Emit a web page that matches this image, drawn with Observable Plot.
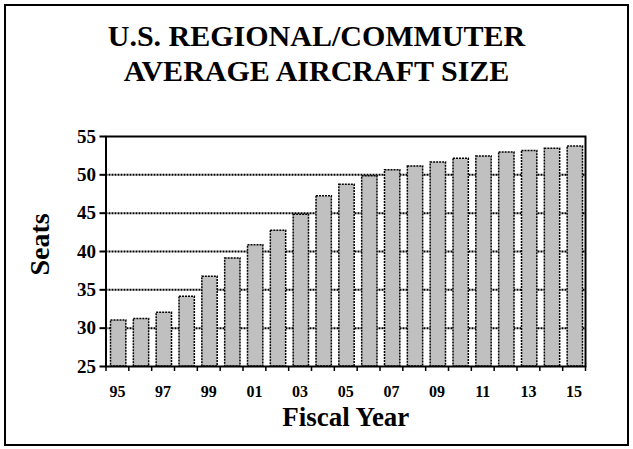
<!DOCTYPE html>
<html>
<head>
<meta charset="utf-8">
<script src="https://cdn.jsdelivr.net/npm/d3@7"></script>
<script src="https://cdn.jsdelivr.net/npm/@observablehq/plot@0.6"></script>
<style>
  html, body { margin: 0; padding: 0; background: #fff; }
  #wrap { position: relative; width: 633px; height: 449px; overflow: hidden; }
  #border { position: absolute; left: 4px; top: 4px; width: 621px; height: 438px; border: 2px solid #000; }
  #title { position: absolute; left: 0; top: 18px; width: 633px; text-align: center;
           font-family: "Liberation Serif", serif; font-weight: bold; font-size: 30px; line-height: 35px; color: #000; }
  #chart { position: absolute; left: 0; top: 0; }
  #chart svg text { font-family: "Liberation Serif", serif; font-weight: bold; font-variant: normal; }
</style>
</head>
<body>
<div id="wrap">
  <div id="border"></div>
  <div id="chart"></div>
  <div id="title">U.S. REGIONAL/COMMUTER<br>AVERAGE AIRCRAFT SIZE</div>
</div>
<script>
const years = ["95","96","97","98","99","00","01","02","03","04","05","06","07","08","09","10","11","12","13","14","15"];
const seats = [31.0, 31.2, 32.0, 34.1, 36.7, 39.1, 40.8, 42.7, 44.8, 47.2, 48.7, 49.8, 50.6, 51.1, 51.6, 52.1, 52.4, 52.9, 53.1, 53.4, 53.7];
const yTicks = [25, 30, 35, 40, 45, 50, 55];
const gridValues = [30, 35, 40, 45, 50];
const labeledYears = ["95","97","99","01","03","05","07","09","11","13","15"];

const data = years.map((year, i) => ({year, i, seats: seats[i]}));
const boundaryTicks = d3.range(years.length + 1);
const labelPositions = labeledYears.map(y => years.indexOf(y) + 0.5);
const serif = "Liberation Serif";

const chart = Plot.plot({
  width: 633,
  height: 449,
  marginLeft: 105.5,
  marginRight: 48,
  marginTop: 136,
  marginBottom: 83,
  style: {fontFamily: serif, fontWeight: "bold", background: "transparent", color: "#000"},
  x: {domain: [0, years.length]},
  y: {domain: [25, 55]},
  marks: [
    Plot.ruleY(gridValues, {stroke: "#000", strokeWidth: 2, strokeDasharray: "2,1"}),
    Plot.rectY(data, {x1: "i", x2: d => d.i + 1, y1: 25, y2: "seats", insetLeft: 5, insetRight: 2.5,
      fill: "#c0c0c0", stroke: "#000", strokeWidth: 1.5, strokeDasharray: "2,1"}),
    Plot.frame({stroke: "#000", strokeWidth: 2}),
    Plot.axisY({ticks: yTicks, tickSize: 6, tickPadding: 4, fontSize: 19, fontFamily: serif, label: null, strokeWidth: 2}),
    Plot.axisX({ticks: boundaryTicks, tickSize: 5, tickFormat: () => "", label: null, strokeWidth: 1.5}),
    Plot.axisX({ticks: labelPositions, tickSize: 0, tickPadding: 19, fontSize: 16, fontFamily: serif, label: null,
      tickFormat: v => years[Math.round(v - 0.5)]}),
    Plot.text(["Seats"], {frameAnchor: "left", textAnchor: "middle", lineAnchor: "middle", rotate: -90,
      dx: -66, dy: -7, fontSize: 28, fontWeight: "bold", fontFamily: serif}),
    Plot.text(["Fiscal Year"], {frameAnchor: "bottom", textAnchor: "middle", lineAnchor: "middle",
      dy: 51, fontSize: 27, fontWeight: "bold", fontFamily: serif})
  ]
});
document.getElementById("chart").appendChild(chart);
</script>
</body>
</html>
